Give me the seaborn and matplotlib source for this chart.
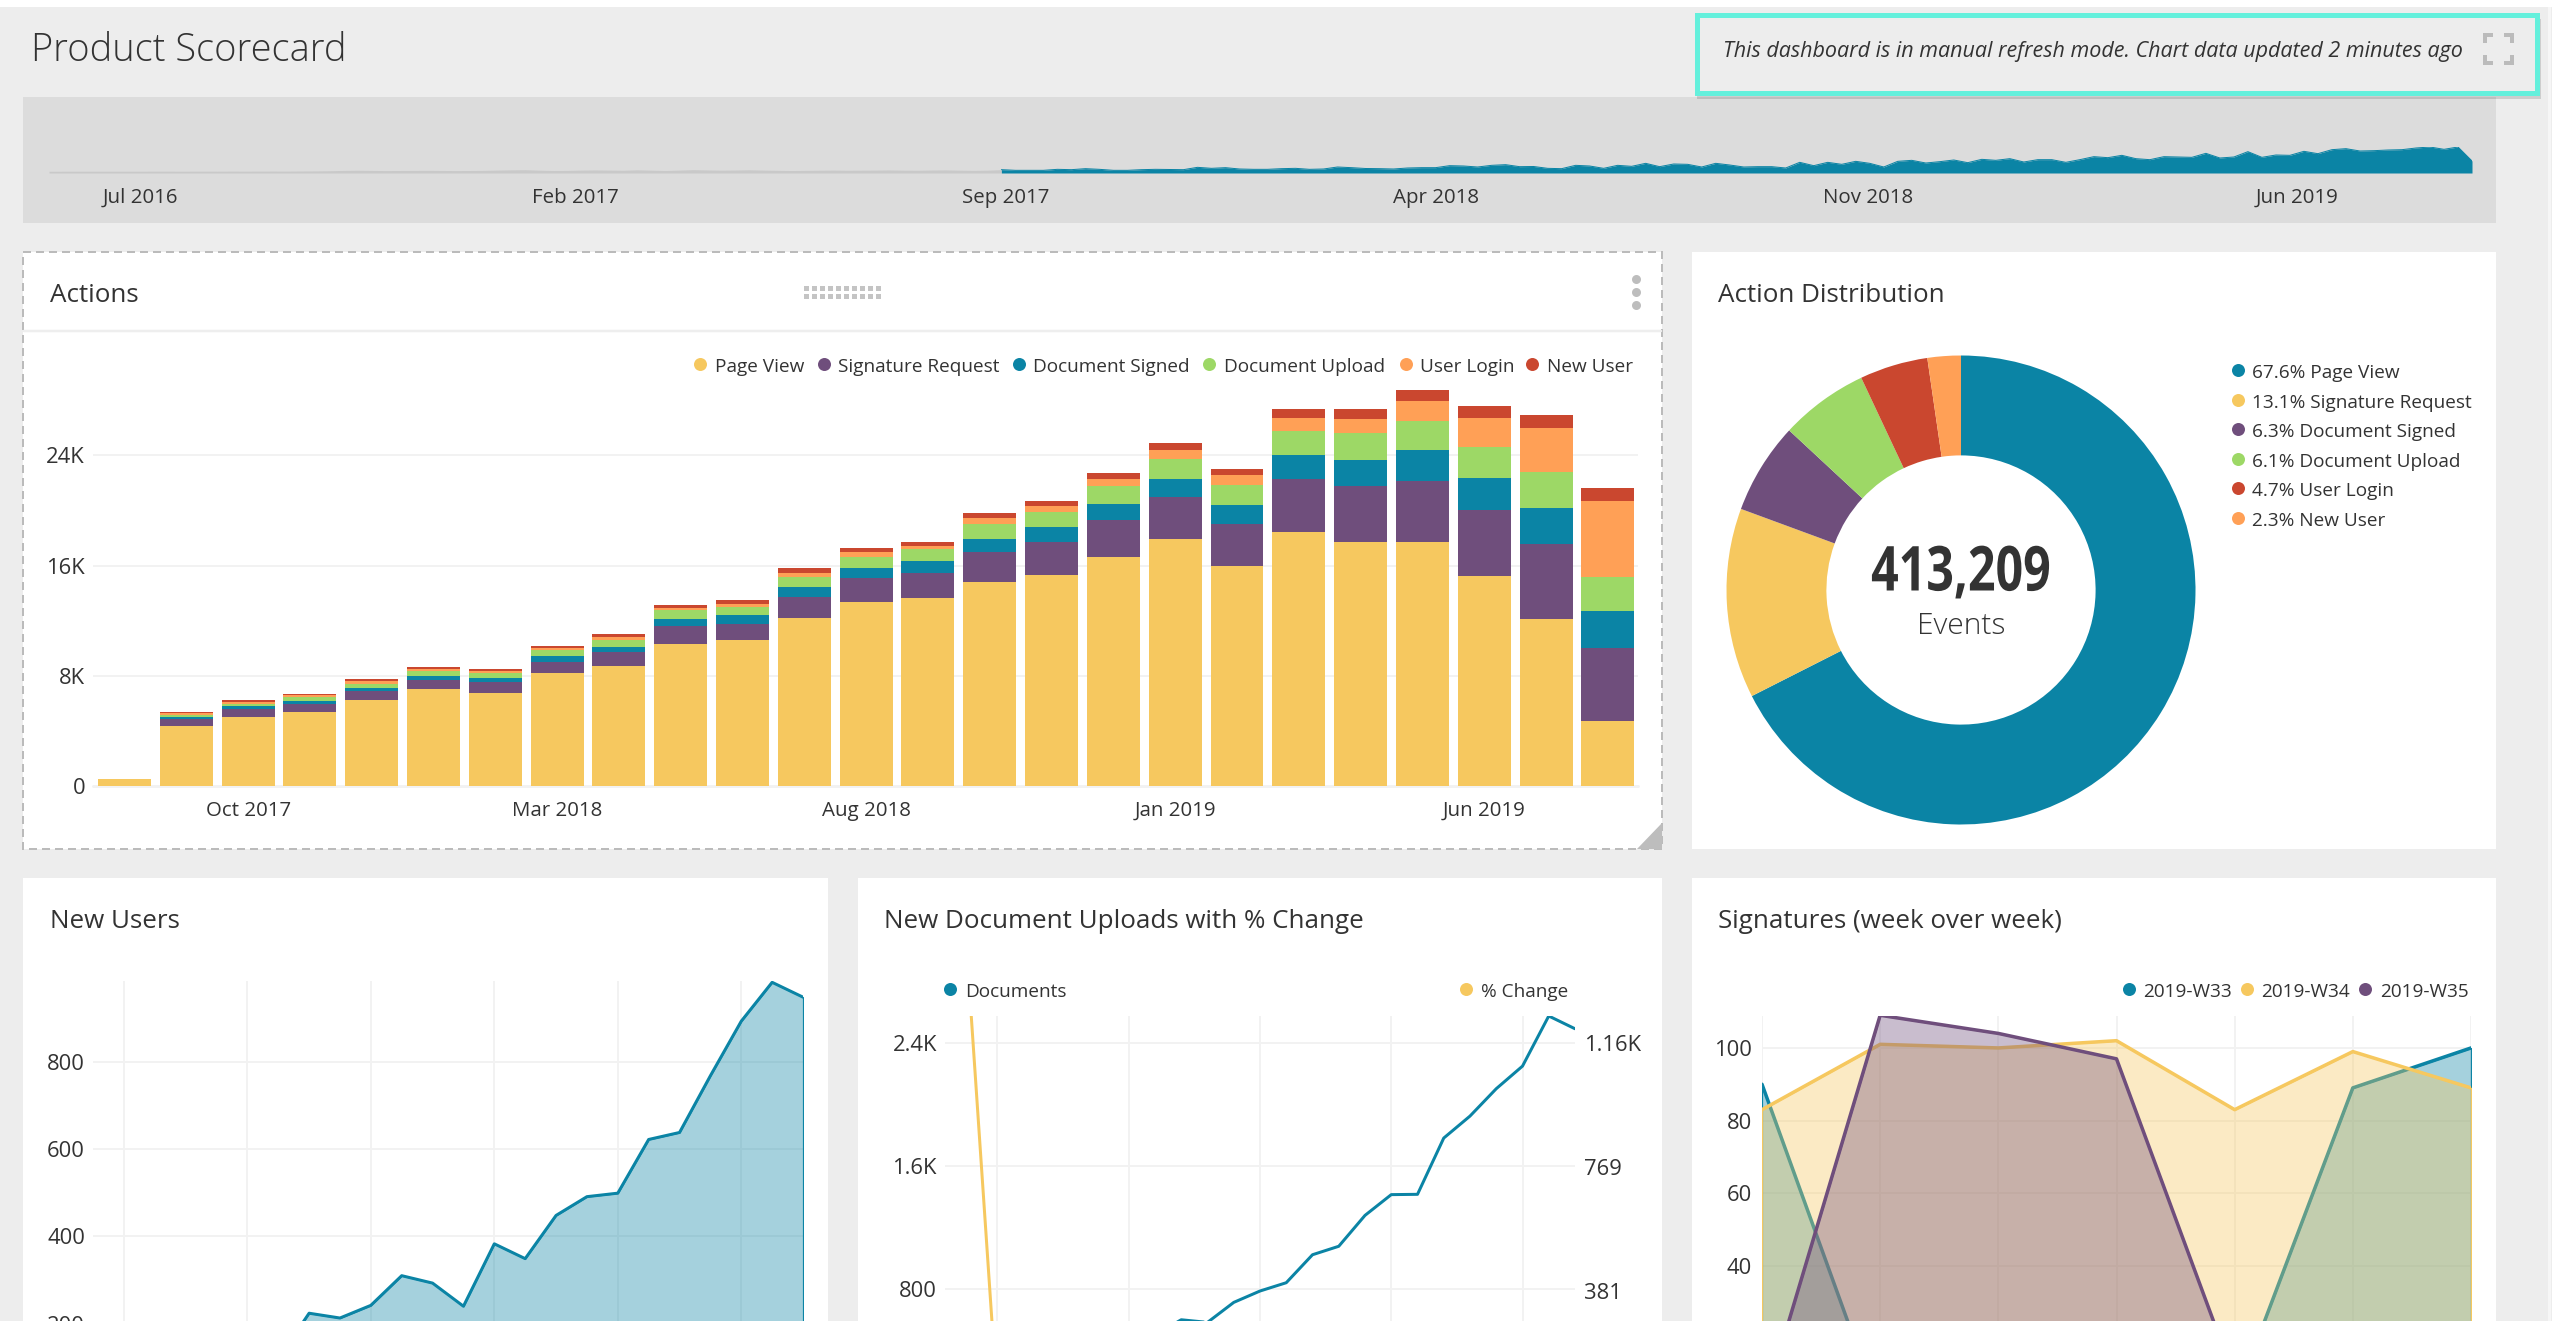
import matplotlib
matplotlib.use("Agg")
import matplotlib.pyplot as plt
import matplotlib.patches as patches
import matplotlib.patheffects as path_effects
from matplotlib.colors import to_rgba
from matplotlib.transforms import Affine2D
import numpy as np
import pandas as pd
import seaborn as sns

YELLOW = "#F6C85F"
PURPLE = "#6F4E7C"
BLUE = "#0B84A5"
GREEN = "#9DD866"
ORANGE = "#FFA056"
RED = "#CA472F"
TEAL = "#64F0DC"
BG = "#EDEDED"
GRID = "#F2F2F2"
TXT = "#333333"

# actions per month, one list per stack layer
months = [f"m{i}" for i in range(25)]
page_view = [474, 4385, 5037, 5393, 6252, 7022, 6785, 8178, 8681, 10311, 10607, 12207, 13393,
             13630, 14815, 15319, 16593, 17896, 15941, 18430, 17689, 17719, 15259, 12089, 4741]
signature_request = [10, 444, 533, 533, 622, 652, 741, 859, 1037, 1274, 1185, 1481, 1689,
                     1837, 2163, 2370, 2696, 3052, 3052, 3822, 4059, 4444, 4770, 5452, 5274]
document_signed = [5, 148, 207, 267, 267, 326, 326, 385, 385, 504, 622, 741, 741,
                   859, 948, 1126, 1185, 1363, 1422, 1748, 1926, 2193, 2341, 2667, 2667]
document_upload = [5, 207, 207, 296, 296, 326, 326, 444, 504, 652, 563, 711, 800,
                   859, 1067, 1096, 1304, 1422, 1452, 1807, 1926, 2133, 2252, 2607, 2519]
user_login = [5, 119, 148, 119, 178, 148, 178, 148, 207, 207, 237, 326, 356,
              237, 444, 415, 533, 652, 681, 919, 1067, 1481, 2074, 3141, 5481]
new_user = [5, 89, 119, 89, 148, 148, 119, 119, 237, 207, 267, 326, 267,
            267, 356, 356, 444, 504, 474, 622, 681, 770, 859, 978, 948]
action_ticks = [2, 7, 12, 17, 22]
action_tick_labels = ["Oct 2017", "Mar 2018", "Aug 2018", "Jan 2019", "Jun 2019"]

# donut
dist_values = [67.6, 13.1, 6.3, 6.1, 4.7, 2.3]
dist_labels = ["Page View", "Signature Request", "Document Signed", "Document Upload", "User Login", "New User"]
dist_colors = [BLUE, YELLOW, PURPLE, GREEN, RED, ORANGE]

# new users, Sep 2017 onwards
new_users = [89, 119, 89, 148, 148, 119, 119, 224, 213, 242, 310, 293, 240, 383, 349, 448,
             491, 499, 622, 638, 768, 893, 982, 948]

# uploads + pct change
documents = [20, 207, 207, 296, 296, 326, 326, 444, 504, 600, 583, 713, 787, 841, 1023, 1078,
             1279, 1414, 1416, 1782, 1925, 2103, 2250, 2576, 2493]
pct_change = [np.nan, 1245, 27, 0, 43, 0, 10, 0, 36, 14, 19, 0, 22, 10, 7, 21, 5, 19, 10, 1, 26, 8, 9, 7, 14]

# week over week signatures
weekdays = [0, 1, 2, 3, 4, 5, 6]
w33 = [90, 0, 0, 0, 3, 89, 100]
w34 = [83, 101, 100, 102, 83, 99, 89]
w35 = [0, 109, 104, 97, 9, np.nan, np.nan]

# range selector, weekly totals
range_grey = [430, 440, 440, 450, 450, 440, 450, 450, 460, 450, 450, 460, 450, 470, 460,
              470, 480, 470, 500, 520, 560, 640, 680, 640, 600, 620, 640, 660, 630, 600,
              620, 650, 720, 780, 820, 700, 620, 640, 720, 760, 720, 680, 790, 700, 620,
              720, 830, 760, 700, 740, 800, 720, 660, 610, 650, 690, 720, 680, 700, 720,
              760, 700, 680, 740, 770, 700, 650, 700, 830]
range_blue = [830, 664, 664, 664, 913, 830, 1079, 913, 664, 664, 830, 913, 872, 830, 1411, 1162,
              1328, 996, 913, 913, 1079, 1162, 913, 996, 1494, 1328, 1121, 1079, 996, 1245, 1328,
              1328, 1826, 1743, 1494, 1909,
              2075, 1577, 1619, 1162, 1079, 1909, 1743, 1162, 1909, 1660, 2407, 1577, 2241, 2158,
              1494, 2407, 1992, 1494, 1577, 1577, 1245, 2656, 1826, 2656, 2158, 2905, 2407, 1494,
              2905, 3154, 2490, 2822, 3237, 2573, 3403,
              3154, 3569, 2739, 3320, 3320, 2656, 3320, 4067, 3818, 4399, 3569, 3320, 4067, 3984,
              3901, 4897, 3735, 3984, 5312, 3901, 4482, 4399, 5395, 4814, 5810, 6059, 5478, 5561,
              5727, 5810, 6225, 6474, 5893, 6474, 2988]
range_ticks = [6.5, 37.6, 68.3, 99.0, 129.9, 160.5]
range_tick_labels = ["Jul 2016", "Feb 2017", "Sep 2017", "Apr 2018", "Nov 2018", "Jun 2019"]

sns.set_theme(style="white")
plt.rcParams["font.family"] = ["Open Sans", "DejaVu Sans"]
plt.rcParams["text.color"] = TXT
plt.rcParams["xtick.color"] = TXT
plt.rcParams["ytick.color"] = TXT

W, H = 2552, 1321
fig = plt.figure(figsize=(W / 100, H / 100), dpi=100, facecolor="white")


def pt(px):
    return px * 0.72


def px_axes(x0, y0, x1, y1):
    a = fig.add_axes([x0 / W, 1 - y1 / H, (x1 - x0) / W, (y1 - y0) / H])
    a.patch.set_alpha(0)
    return a


def style_axes(a, pad=8, size=22, xgrid=False):
    sns.despine(ax=a, left=True, bottom=True)
    a.set_axisbelow(True)
    a.grid(True, axis="y", color=GRID, linewidth=pt(2))
    a.grid(xgrid, axis="x", color=GRID, linewidth=pt(2))
    a.tick_params(axis="y", length=0, pad=pt(pad), labelsize=pt(size), labelcolor=TXT)
    a.set_xlabel("")
    a.set_ylabel("")


def area(a, x, y, color, lw=3, alpha=0.37, z=2):
    d = pd.DataFrame({"x": x, "y": y}).dropna()
    a.fill_between(d["x"], d["y"], facecolor=to_rgba(color, alpha), edgecolor=color, linewidth=pt(1.2), zorder=z + 1)
    sns.lineplot(data=d, x="x", y="y", color=color, linewidth=pt(lw), ax=a, errorbar=None, zorder=z)


class SqueezeX(path_effects.AbstractPathEffect):
    # the big number is in a condensed face, squeeze the glyph outlines around its centre
    def __init__(self, cx, sx):
        super().__init__()
        self.cx = cx
        self.sx = sx

    def draw_path(self, renderer, gc, tpath, affine, rgbFace=None):
        squeeze = Affine2D().translate(-self.cx, 0).scale(self.sx, 1).translate(self.cx, 0)
        renderer.draw_path(gc, tpath, affine + squeeze, rgbFace)


# page chrome in pixel coordinates
page = fig.add_axes([0, 0, 1, 1])
page.set_xlim(0, W)
page.set_ylim(H, 0)
page.axis("off")


def rect(x0, y0, x1, y1, **kw):
    page.add_patch(patches.Rectangle((x0, y0), x1 - x0, y1 - y0, **kw))


def label(x, y, s, size=19, **kw):
    kw.setdefault("va", "center")
    kw.setdefault("color", TXT)
    return page.text(x, y + 3, s, fontsize=pt(size), **kw)


def key(dot_x, text_x, y, s, color, size=19):
    page.plot([dot_x], [y], "o", color=color, ms=pt(13), mew=0)
    label(text_x, y, s, size=size)


rect(0, 7, W, H, fc=BG, ec="none", zorder=0)
rect(2548, 7, 2551, H, fc="#F6F6F6", ec="none", zorder=0)
rect(23, 97, 2496, 223, fc="#DCDCDC", ec="none", zorder=0)
for box in [(1692, 252, 2496, 849), (23, 878, 828, H + 5), (858, 878, 1662, H + 5), (1692, 878, 2496, H + 5)]:
    rect(box[0], box[1], box[2], box[3], fc="white", ec="none", zorder=0)
rect(23, 252, 1662, 849, fc="white", ec="#BBBBBB", lw=pt(2), ls=(0, (4, 2.5)), zorder=1)
page.plot([24, 1661], [331, 331], color="#EEEEEE", lw=pt(2.5), zorder=1)

label(31, 48, "Product Scorecard", size=38, fontweight="light")

# refresh notice
rect(1697, 19, 2541, 99, fc="#00000022", ec="none", zorder=3)
rect(1697, 15, 2537, 93, fc=BG, ec=TEAL, lw=pt(5), zorder=4)
label(1723, 49, "This dashboard is in manual refresh mode. Chart data updated 2 minutes ago",
      size=21.5, style="italic", zorder=5)
corner = "#BBBBBB"
for cx, cy, dx, dy in [(2485, 35, 1, 1), (2512, 35, -1, 1), (2485, 63, 1, -1), (2512, 63, -1, -1)]:
    page.plot([cx + dx * 8, cx, cx], [cy, cy, cy + dy * 8], color=corner, lw=pt(4), solid_capstyle="butt",
              solid_joinstyle="miter", zorder=5)

# actions panel decoration
label(50, 293, "Actions", size=26)
for col in range(10):
    for row_y in [288, 296]:
        rect(804 + col * 8, row_y - 2, 808.5 + col * 8, row_y + 2.5, fc="#C4C4C4", ec="none", zorder=2)
page.plot([1636, 1636, 1636], [279, 292, 305], "o", color="#BDBDBD", ms=pt(9), mew=0)
page.add_patch(patches.Polygon([(1662, 823), (1662, 849), (1637, 849)], closed=True, fc="#BDBDBD", ec="none", zorder=2))

for dx, tx, s, c in [(700, 715, "Page View", YELLOW), (824, 838, "Signature Request", PURPLE),
                     (1019, 1033, "Document Signed", BLUE), (1209, 1224, "Document Upload", GREEN),
                     (1406, 1420, "User Login", ORANGE), (1532, 1547, "New User", RED)]:
    key(dx, tx, 364, s, c)

label(1718, 293, "Action Distribution", size=26)
for i, y in enumerate([370, 400, 429, 459, 488, 518]):
    key(2238, 2252, y, f"{dist_values[i]}% {dist_labels[i]}", dist_colors[i])

label(50, 918, "New Users", size=26)
label(884, 918, "New Document Uploads with % Change", size=26)
label(1718, 918, "Signatures (week over week)", size=26)
key(950, 965, 989, "Documents", BLUE)
key(1466, 1481, 989, "% Change", YELLOW)
key(2129, 2143, 989, "2019-W33", BLUE)
key(2247, 2261, 989, "2019-W34", YELLOW)
key(2365, 2380, 989, "2019-W35", PURPLE)

# range selector
ax_r = px_axes(49, 147, 2472, 173)
split = len(range_grey) - 1
x_grey = np.arange(len(range_grey))
x_blue = np.arange(split, split + len(range_blue))
ax_r.fill_between(x_grey, range_grey, color="#C9C9C9", linewidth=0)
ax_r.fill_between(x_blue, range_blue, color=BLUE, linewidth=0)
sns.lineplot(x=x_blue, y=range_blue, color=BLUE, linewidth=pt(1), ax=ax_r, errorbar=None)
ax_r.set_xlim(0, split + len(range_blue) - 1)
ax_r.set_ylim(0, 6474)
sns.despine(ax=ax_r, left=True, bottom=True)
ax_r.set_yticks([])
ax_r.set_xticks(range_ticks, range_tick_labels)
ax_r.tick_params(axis="x", length=0, pad=pt(15), labelsize=pt(20.5))

# stacked monthly actions
ax_a = px_axes(93, 380, 1637.5, 786)
layers = [page_view, signature_request, document_signed, document_upload, user_login, new_user]
layer_colors = [YELLOW, PURPLE, BLUE, GREEN, ORANGE, RED]
bottom = np.zeros(len(months))
for vals, c in zip(layers, layer_colors):
    sns.barplot(x=months, y=vals, bottom=bottom, color=c, saturation=1, width=0.857, ax=ax_a,
                errorbar=None, linewidth=0, zorder=2)
    bottom = bottom + np.array(vals)
style_axes(ax_a)
ax_a.set_xlim(-0.51, 24.48)
ax_a.set_ylim(0, 29474)
ax_a.set_yticks([0, 8000, 16000, 24000], ["0", "8K", "16K", "24K"])
ax_a.set_xticks(action_ticks, action_tick_labels)
ax_a.grid(False, axis="x")
ax_a.tick_params(axis="x", length=pt(7), width=pt(1.5), color="#CCCCCC", pad=pt(8), labelsize=pt(20.5))
ax_a.axhline(0, color=GRID, lw=pt(3), zorder=1, clip_on=False)

# donut
ax_d = px_axes(1961 - 234.5, 590 - 234.5, 1961 + 234.5, 590 + 234.5)
ax_d.pie(dist_values, colors=dist_colors, startangle=90, counterclock=False, radius=1,
         wedgeprops={"width": 1 - 134.6 / 234.5, "linewidth": 0})
ax_d.set_xlim(-1, 1)
ax_d.set_ylim(-1, 1)
big = label(1961, 571, "413,209", size=62, ha="center", fontweight="bold")
big.set_path_effects([SqueezeX(1961, 0.78)])
label(1961, 623, "Events", size=30, ha="center", fontweight="light")

# new users
ax_n = px_axes(93, 981, 803, 1411)
area(ax_n, np.arange(len(new_users)), new_users, BLUE)
style_axes(ax_n, xgrid=True)
ax_n.set_xlim(0, len(new_users) - 1)
ax_n.set_ylim(0, 985)
ax_n.set_yticks([200, 400, 600, 800])
ax_n.set_xticks([1, 5, 9, 13, 17, 21], [""] * 6)
ax_n.tick_params(axis="x", length=0)

# uploads with twin axis
ax_u = px_axes(945, 1016, 1575, 1412)
sns.lineplot(x=np.arange(len(documents)), y=documents, color=BLUE, linewidth=pt(3), ax=ax_u, errorbar=None, zorder=3)
style_axes(ax_u, xgrid=True)
ax_u.set_xlim(0, len(documents) - 1)
ax_u.set_ylim(0, 2576)
ax_u.set_yticks([800, 1600, 2400], ["800", "1.6K", "2.4K"])
ax_u.set_xticks([2, 7, 12, 17, 22], [""] * 5)
ax_u.tick_params(axis="x", length=0)
ax_p = ax_u.twinx()
ax_p.patch.set_alpha(0)
sns.lineplot(x=np.arange(len(pct_change)), y=pct_change, color=YELLOW, linewidth=pt(3), ax=ax_p, errorbar=None)
sns.despine(ax=ax_p, left=True, right=True, bottom=True)
ax_p.set_ylim(0, 1245)
ax_p.set_yticks([381, 769, 1160], ["381", "769", "1.16K"])
ax_p.tick_params(axis="y", length=0, pad=pt(9), labelsize=pt(22), labelcolor=TXT)
ax_p.set_ylabel("")
ax_p.grid(False)

# signatures, later weeks paint over earlier ones
ax_s = px_axes(1762, 1016, 2471, 1411)
area(ax_s, weekdays, w33, BLUE, lw=3.5, z=2)
area(ax_s, weekdays, w34, YELLOW, lw=3.5, z=4)
area(ax_s, weekdays, w35, PURPLE, lw=3.5, z=6)
style_axes(ax_s, pad=10, xgrid=True)
ax_s.set_xlim(0, 6)
ax_s.set_ylim(0, 108.8)
ax_s.set_yticks([40, 60, 80, 100])
ax_s.set_xticks(weekdays, [""] * 7)
ax_s.tick_params(axis="x", length=0)

fig.savefig("out.png", dpi=100, facecolor="white")
